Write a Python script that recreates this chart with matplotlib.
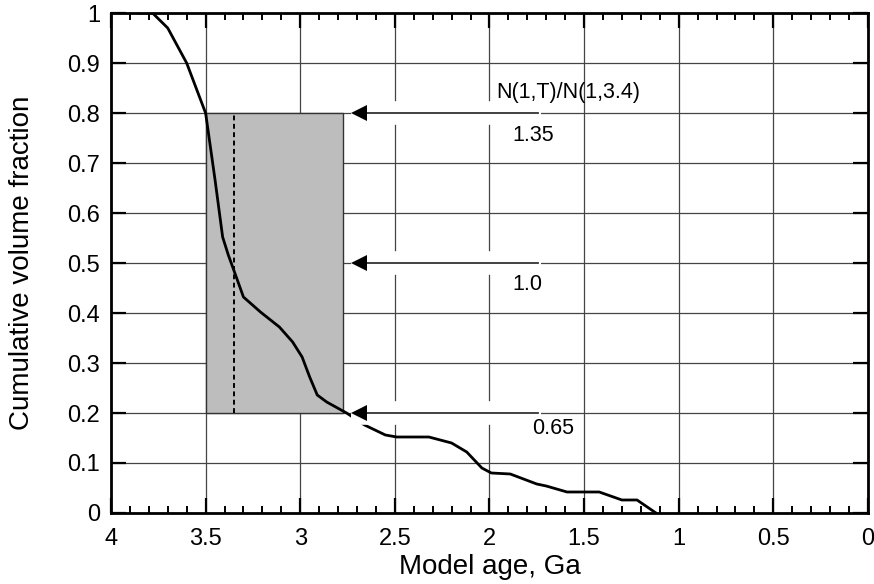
import numpy as np
import matplotlib.pyplot as plt
from matplotlib.ticker import MultipleLocator

plt.rcParams['font.family'] = ['Liberation Sans', 'DejaVu Sans']

# Cumulative volume fraction vs. model age (Ga)
idade = [3.85, 3.78, 3.70, 3.60, 3.55, 3.50, 3.45, 3.41, 3.38, 3.355, 3.30,
         3.21, 3.11, 3.04, 2.99, 2.95, 2.91, 2.86, 2.755, 2.66, 2.55, 2.49,
         2.32, 2.20, 2.12, 2.04, 1.99, 1.89, 1.75, 1.70, 1.59, 1.42, 1.30,
         1.22, 1.12]
fracao = [1.0, 1.0, 0.97, 0.90, 0.85, 0.80, 0.666, 0.552, 0.516, 0.49, 0.432,
          0.402, 0.372, 0.342, 0.312, 0.272, 0.236, 0.222, 0.20, 0.176, 0.156,
          0.152, 0.152, 0.14, 0.122, 0.09, 0.08, 0.078, 0.058, 0.054, 0.042,
          0.042, 0.026, 0.026, 0.0]

# Shaded age interval and median age
faixa_idade = (3.5, 2.775)
faixa_fracao = (0.2, 0.8)
idade_mediana = 3.35

# Reference arrows and their N(1,T)/N(1,3.4) ratios
seta_y = [0.8, 0.5, 0.2]
seta_x0, seta_x1 = 2.69, 1.745
razoes = ['1.35', '1.0', '0.65']
razoes_x = [1.77, 1.80, 1.665]
razoes_y = [0.756, 0.458, 0.17]

fig = plt.figure(figsize=(8.74, 5.84), dpi=100)
ax = fig.add_axes([0.127, 0.1216, 0.866, 0.856])

ax.set_xlim(4, 0)
ax.set_ylim(0, 1)

# Grid
ax.xaxis.set_major_locator(MultipleLocator(0.5))
ax.xaxis.set_minor_locator(MultipleLocator(0.1))
ax.yaxis.set_major_locator(MultipleLocator(0.1))
ax.grid(True, which='major', color='#444444', linewidth=0.9, zorder=0)
ax.set_axisbelow(True)

# Shaded box + dashed median
ax.fill_between(faixa_idade, faixa_fracao[0], faixa_fracao[1],
                facecolor='#bdbdbd', edgecolor='#333333', linewidth=1.0, zorder=1)
ax.plot([idade_mediana, idade_mediana], faixa_fracao, color='black',
        linestyle=(0, (2.5, 1.8)), linewidth=1.4, zorder=2)

# Curve
ax.plot(idade, fracao, color='black', linewidth=2.0, zorder=3)

# Arrows with white backing
for y in seta_y:
    ax.plot([seta_x0 + 0.04, seta_x1 - 0.02], [y, y], color='white',
            linewidth=17, solid_capstyle='butt', zorder=4)
    ax.plot([seta_x0, seta_x1], [y, y], color='#333333', linewidth=1.3, zorder=5)
    ax.plot(seta_x0, y, marker='<', markersize=11, color='black',
            markeredgewidth=0, zorder=6)

ax.text(1.585, 0.842, 'N(1,T)/N(1,3.4)', fontsize=15.5, ha='center', va='center', zorder=7)
for xt, yt, r in zip(razoes_x, razoes_y, razoes):
    ax.text(xt, yt, r, fontsize=15.5, ha='center', va='center', zorder=7)

# Axes styling
for s in ax.spines.values():
    s.set_linewidth(2.0)
    s.set_zorder(8)
ax.tick_params(which='major', direction='in', length=11, width=1.6,
               top=True, right=True, labelsize=17, pad=8)
ax.tick_params(axis='x', which='major', pad=11)
ax.tick_params(axis='x', which='minor', direction='in', length=5, width=1.4,
               top=True, bottom=True)
ax.tick_params(axis='y', which='minor', left=False, right=False)

ax.set_xticks(np.arange(4, -0.01, -0.5))
ax.set_xticklabels(['4', '3.5', '3', '2.5', '2', '1.5', '1', '0.5', '0'])
ax.set_yticks(np.arange(0, 1.01, 0.1))
ax.set_yticklabels(['0', '0.1', '0.2', '0.3', '0.4', '0.5', '0.6', '0.7', '0.8', '0.9', '1'])

ax.set_xlabel('Model age, Ga', fontsize=20, labelpad=3)
ax.set_ylabel('Cumulative volume fraction', fontsize=20)
ax.yaxis.set_label_coords(-0.101, 0.5)

fig.savefig('out.png', dpi=100)
